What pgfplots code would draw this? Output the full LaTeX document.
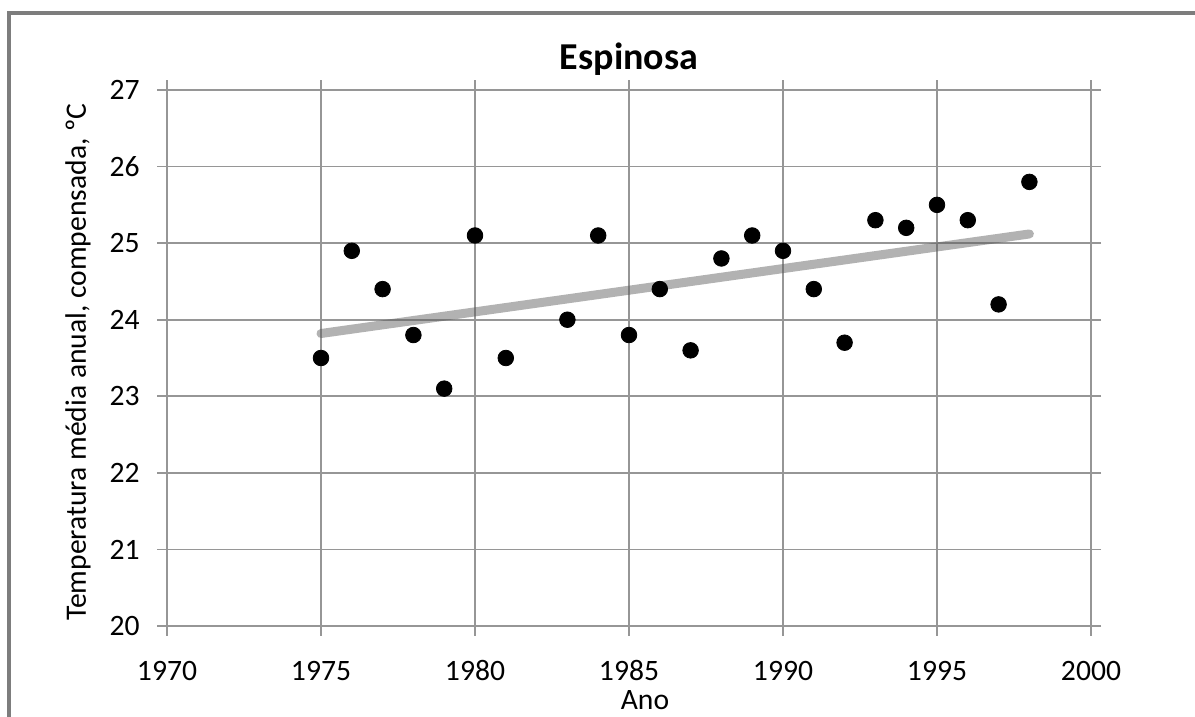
\documentclass[border=0pt]{standalone}
\usepackage{fontspec}
\setmainfont{Carlito}
\usepackage{pgfplots}
\pgfplotsset{compat=1.18}
\definecolor{gridc}{RGB}{150,150,150}
\definecolor{framec}{RGB}{125,125,125}
\definecolor{trendc}{RGB}{87,87,87}
\begin{document}
\begin{tikzpicture}
\useasboundingbox (-83.5pt,-45.5pt) rectangle (514pt,313pt);
\begin{axis}[
  at={(0,0)}, anchor=south west,
  scale only axis, width=462pt, height=268pt,
  xmin=1970, xmax=2000, ymin=20, ymax=27,
  xtick={1970,1975,...,2000}, ytick={20,21,...,27},
  /pgf/number format/1000 sep={},
  /pgf/number format/assume math mode=true,
  grid=major,
  major grid style={draw=gridc, line width=0.8pt},
  axis line style={draw=gridc, line width=0.8pt},
  tick style={draw=gridc, line width=0.8pt},
  tick align=outside, major tick length=5pt,
  ticklabel style={font=\fontsize{14.8}{17}\selectfont, text=black, inner sep=0pt},
  xticklabel style={anchor=base, yshift=-22.5pt},
  yticklabel style={anchor=east, xshift=-8.5pt},
  title={Espinosa},
  title style={at={(axis description cs:0.5,1)}, anchor=base, yshift=4.5pt, inner sep=0pt, font=\fontsize{19}{22}\selectfont\bfseries},
  xlabel={Ano},
  xlabel style={at={(axis description cs:0.5,0)}, anchor=base, yshift=-41.8pt, xshift=8pt, inner sep=0pt, font=\fontsize{14.8}{17}\selectfont},
  ylabel={Temperatura média anual, compensada, ºC},
  ylabel style={at={(axis description cs:-0.0877,0.4925)}, anchor=base, rotate=0, inner sep=0pt, font=\fontsize{14.8}{17}\selectfont},
]
\addplot[only marks, mark=*, mark size=3.9pt, mark options={fill=black, draw=black}] coordinates {
(1975,23.5) (1976,24.9) (1977,24.4) (1978,23.8) (1979,23.1) (1980,25.1)
(1981,23.5) (1983,24.0) (1984,25.1) (1985,23.8) (1986,24.4) (1987,23.6)
(1988,24.8) (1989,25.1) (1990,24.9) (1991,24.4) (1992,23.7) (1993,25.3)
(1994,25.2) (1995,25.5) (1996,25.3) (1997,24.2) (1998,25.8)
};
\addplot[draw=trendc, line width=4.5pt, line cap=round, opacity=0.46] coordinates {(1975,23.82) (1998,25.12)};
\end{axis}
\draw[framec, line width=2pt] (516pt,306.5pt) -- (-79pt,306.5pt) -- (-79pt,-47pt);
\end{tikzpicture}
\end{document}
